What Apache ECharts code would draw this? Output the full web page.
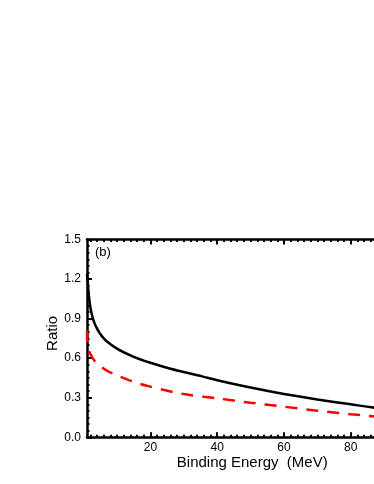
<!DOCTYPE html>
<html>
<head>
<meta charset="utf-8">
<script src="https://cdn.jsdelivr.net/npm/echarts@6/dist/echarts.min.js"></script>
<style>html,body{margin:0;padding:0;background:#fff}#c{width:374px;height:484px}</style>
</head>
<body>
<div id="c"></div>
<script>
var blackX = [1, 1.2, 1.5, 2.2, 3.5, 6, 10, 15, 20, 26, 35.5, 40, 50, 60, 70, 80, 90, 100];
var blackY = [1.24, 1.19, 1.09, 0.96, 0.85, 0.75, 0.672, 0.61, 0.565, 0.52, 0.462, 0.433, 0.377, 0.328, 0.287, 0.25, 0.215, 0.19];
var redX = [1, 1.1, 1.5, 3.5, 7, 10.5, 13.5, 17, 20, 23.5, 27, 31, 36, 40, 50, 60, 70, 80, 90, 100];
var redY = [0.81, 0.72, 0.66, 0.573, 0.505, 0.465, 0.434, 0.404, 0.384, 0.362, 0.342, 0.324, 0.307, 0.295, 0.262, 0.232, 0.202, 0.175, 0.152, 0.132];
var xLabels = [20, 40, 60, 80];
var xMajor = [20, 40, 60, 80, 100];
var xMinor = [2,4,6,8,10,12,14,16,18,22,24,26,28,30,32,34,36,38,42,44,46,48,50,52,54,56,58,62,64,66,68,70,72,74,76,78,82,84,86,88,90,92,94,96,98];
var xName = 'Binding Energy  (MeV)';
var yName = 'Ratio';
var panelLabel = '(b)';

function pairs(xs, ys) { return xs.map(function (x, i) { return [x, ys[i]]; }); }

var font = 'Liberation Sans, Arial, sans-serif';
function xAx(pos, showLine, ticks, len, labels, name) {
  return {
    type: 'value', position: pos, min: 1, max: 100,
    axisLine: { show: showLine, onZero: false, lineStyle: { color: '#000', width: 2.5 } },
    axisTick: { show: true, inside: true, length: len, customValues: ticks, lineStyle: { color: '#000', width: 2 } },
    axisLabel: labels ? { show: true, customValues: labels, color: '#000', fontSize: 12, fontFamily: font, margin: 4 } : { show: false },
    splitLine: { show: false },
    name: name || '', nameLocation: 'middle', nameGap: 18,
    nameTextStyle: { color: '#000', fontSize: 15, fontFamily: font }
  };
}

var chart = echarts.init(document.getElementById('c'));
chart.setOption({
  animation: false,
  grid: { left: 87, top: 239.5, width: 330.5, height: 197.8, containLabel: false, outerBoundsMode: 'none' },
  xAxis: [
    xAx('bottom', true, xMajor, 5, xLabels, xName),
    xAx('bottom', false, xMinor, 2.5, null),
    xAx('top', true, xMajor, 5, null),
    xAx('top', false, xMinor, 2.5, null)
  ],
  yAxis: {
    type: 'value', min: 0, max: 1.5, interval: 0.3,
    axisLine: { show: true, onZero: false, lineStyle: { color: '#000', width: 2.5 } },
    axisTick: { show: true, inside: true, length: 5, lineStyle: { color: '#000', width: 2 } },
    minorTick: { show: true, splitNumber: 6, length: 2.5, lineStyle: { color: '#000', width: 2 } },
    axisLabel: { color: '#000', fontSize: 12, fontFamily: font, margin: 6, formatter: function (v) { return v.toFixed(1); } },
    splitLine: { show: false },
    name: yName, nameLocation: 'middle', nameGap: 27, nameRotate: 90, nameMoveOverlap: false,
    nameTextStyle: { color: '#000', fontSize: 15, fontFamily: font, padding: [0, 0, 0, 10] }
  },
  graphic: [{ type: 'text', left: 95, top: 246, style: { text: panelLabel, fill: '#000', fontSize: 13, fontFamily: font } }],
  series: [
    { type: 'line', data: pairs(blackX, blackY), smooth: 0.3, showSymbol: false, lineStyle: { color: '#000', width: 2.5 } },
    { type: 'line', data: pairs(redX, redY), smooth: 0.3, showSymbol: false, lineStyle: { color: '#ff0000', width: 2.5, type: [12, 9] } }
  ]
});
</script>
</body>
</html>
